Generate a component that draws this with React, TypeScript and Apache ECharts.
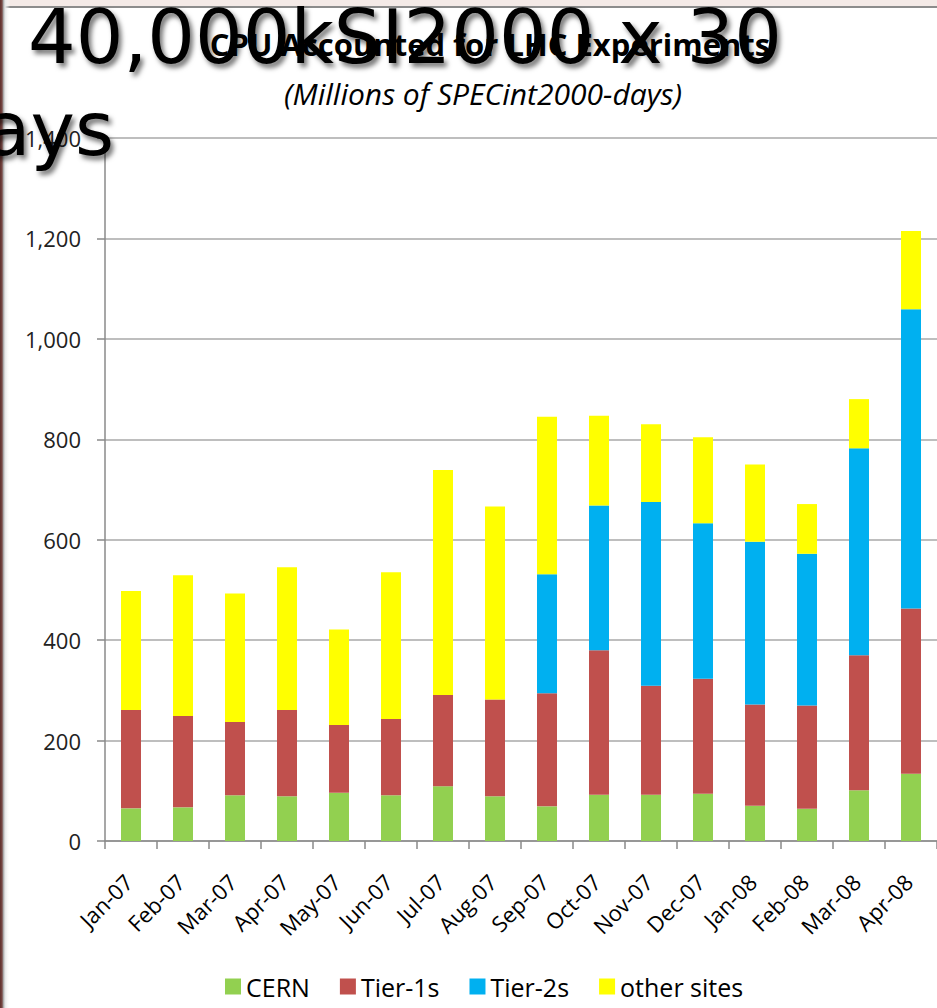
import React, { useEffect, useRef } from "react";
import * as echarts from "echarts";

const months = [
  "Jan-07", "Feb-07", "Mar-07", "Apr-07", "May-07", "Jun-07", "Jul-07", "Aug-07",
  "Sep-07", "Oct-07", "Nov-07", "Dec-07", "Jan-08", "Feb-08", "Mar-08", "Apr-08",
];
const cern = [65, 67, 91, 89, 96, 91, 109, 89, 69, 92, 92, 94, 70, 64, 101, 134];
const tier1 = [196, 182, 146, 172, 135, 152, 182, 193, 225, 288, 217, 229, 202, 206, 269, 329];
const tier2 = [0, 0, 0, 0, 0, 0, 0, 0, 237, 288, 366, 310, 324, 302, 412, 596];
const otherSites = [237, 280, 256, 284, 190, 292, 448, 384, 314, 179, 155, 171, 154, 99, 98, 156];
const yTicks = [0, 200, 400, 600, 800, 1000, 1200, 1400];

const chartTitle = "CPU Accounted for LHC Experiments";
const chartSubtitle = "(Millions of SPECint2000-days)";
const overlayLine1 = "40,000kSI2000 x 30";
const overlayLine2 = "days";

const FONT = "'Open Sans', 'Noto Sans', sans-serif";

export default function App() {
  const ref = useRef<HTMLDivElement>(null);

  useEffect(() => {
    if (!ref.current) return;
    const chart = echarts.init(ref.current, undefined, { renderer: "svg" });
    const mk = (name: string, data: number[], color: string) => ({
      name,
      type: "bar",
      stack: "total",
      barWidth: 20,
      data,
      itemStyle: { color },
      emphasis: { disabled: true },
    });
    const bigText = {
      fontFamily: "'DejaVu Sans', sans-serif",
      fontSize: 75,
      fill: "#000",
      verticalAlign: "middle",
      textShadowColor: "rgba(0,0,0,0.55)",
      textShadowBlur: 5,
      textShadowOffsetX: 3,
      textShadowOffsetY: 4,
    };
    chart.setOption({
      animation: false,
      backgroundColor: "#ffffff",
      title: [
        {
          text: chartTitle,
          left: 485,
          top: 23,
          textAlign: "center",
          textStyle: { fontFamily: FONT, fontSize: 31, fontWeight: "bold", color: "#000" },
        },
        {
          text: chartSubtitle,
          left: 478,
          top: 73,
          textAlign: "center",
          textStyle: { fontFamily: FONT, fontSize: 30, fontStyle: "italic", fontWeight: "normal", color: "#000" },
        },
      ],
      legend: {
        left: 220,
        top: 969,
        itemWidth: 16,
        itemHeight: 16,
        itemGap: 30,
        icon: "rect",
        textStyle: { fontFamily: FONT, fontSize: 25, color: "#000" },
        data: ["CERN", "Tier-1s", "Tier-2s", "other sites"],
      },
      grid: { left: 105, right: 0, top: 138, bottom: 167, containLabel: false },
      xAxis: {
        type: "category",
        data: months,
        axisLine: { lineStyle: { color: "#8a8a8a", width: 1.5 } },
        axisTick: { show: true, length: 8, lineStyle: { color: "#8a8a8a", width: 1.5 } },
        axisLabel: {
          rotate: 45,
          fontFamily: FONT,
          fontSize: 22,
          color: "#000",
          margin: 34,
          padding: [0, 4, 0, 0],
          interval: 0,
        },
      },
      yAxis: {
        type: "value",
        min: yTicks[0],
        max: yTicks[yTicks.length - 1],
        interval: 200,
        axisLine: { show: true, lineStyle: { color: "#8a8a8a", width: 1.5 } },
        axisTick: { show: true, length: 8, lineStyle: { color: "#8a8a8a", width: 1.5 } },
        axisLabel: {
          fontFamily: FONT,
          fontSize: 22,
          color: "#222",
          margin: 24,
          formatter: (v: number) => v.toLocaleString("en-US"),
        },
        splitLine: { lineStyle: { color: "#a8a8a8", width: 1.5 } },
      },
      series: [
        mk("CERN", cern, "#92d050"),
        mk("Tier-1s", tier1, "#c0504d"),
        mk("Tier-2s", tier2, "#00b0f0"),
        mk("other sites", otherSites, "#ffff00"),
      ],
      graphic: [
        { type: "rect", z: 100, shape: { x: 0, y: 0, width: 937, height: 6 }, style: { fill: "#f4eae7" } },
        { type: "rect", z: 100, shape: { x: 0, y: 6, width: 937, height: 2 }, style: { fill: "#8c8c8c" } },
        {
          type: "rect",
          z: 100,
          shape: { x: 0, y: 0, width: 10, height: 1008 },
          style: {
            fill: new echarts.graphic.LinearGradient(0, 0, 1, 0, [
              { offset: 0, color: "#5e2f2c" },
              { offset: 0.22, color: "#7a4a46" },
              { offset: 0.3, color: "#9a9a9a" },
              { offset: 0.5, color: "#e6e6e6" },
              { offset: 1, color: "rgba(255,255,255,0)" },
            ]),
          },
        },
        {
          type: "text",
          z: 200,
          x: 28,
          y: 37,
          style: { ...bigText, text: overlayLine1 },
        },
        {
          type: "text",
          z: 200,
          x: -63,
          y: 129,
          style: { ...bigText, text: overlayLine2 },
        },
      ],
    });
    return () => chart.dispose();
  }, []);

  return (
    <div
      ref={ref}
      style={{ position: "fixed", left: 0, top: 0, width: 937, height: 1008, background: "#fff" }}
    />
  );
}
